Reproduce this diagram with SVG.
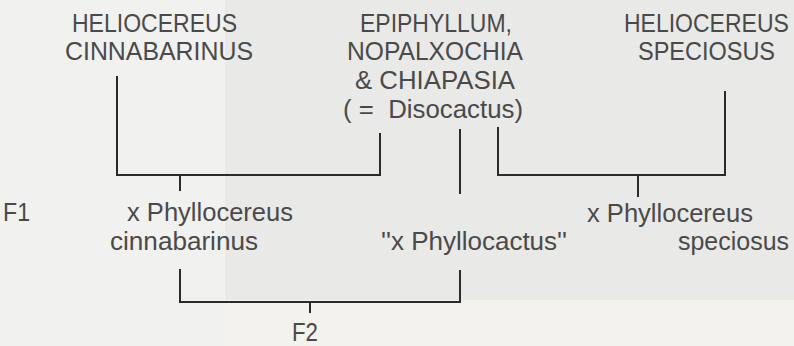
<svg xmlns="http://www.w3.org/2000/svg" width="794" height="346" viewBox="0 0 794 346">
<defs>
<style>
.t{font-family:"Liberation Sans",Arial,sans-serif;font-size:25px;fill:#4a4a4a;}
.c{fill:none;stroke:#2b2b2b;stroke-width:2;stroke-linecap:square;}
</style>
</defs>
<rect x="0" y="0" width="794" height="346" fill="#f1f1ef"/>
<rect x="225" y="0" width="569" height="300" fill="#e9e9e7"/>
<rect x="225" y="300" width="569" height="46" fill="#f3f2ec"/>
<g id="connectors">
<path class="c" d="M117 77 V175 H380 V134"/>
<path class="c" d="M180 175 V190"/>
<path class="c" d="M460 130 V193"/>
<path class="c" d="M498 128 V175 H725 V92"/>
<path class="c" d="M638 175 V196"/>
<path class="c" d="M180 270 V302 H460 V271"/>
<path class="c" d="M310 302 V312"/>
</g>
<g id="heliocereus-cinnabarinus">
<text class="t" x="72" y="31.5" textLength="165" lengthAdjust="spacingAndGlyphs">HELIOCEREUS</text>
<text class="t" x="65" y="60" textLength="188" lengthAdjust="spacingAndGlyphs">CINNABARINUS</text>
</g>
<g id="epiphyllum">
<text class="t" x="360" y="31.5" textLength="152" lengthAdjust="spacingAndGlyphs">EPIPHYLLUM,</text>
<text class="t" x="347" y="60" textLength="176" lengthAdjust="spacingAndGlyphs">NOPALXOCHIA</text>
<text class="t" x="355" y="89" textLength="160" lengthAdjust="spacingAndGlyphs">&amp; CHIAPASIA</text>
<text class="t" x="343" y="118" textLength="180" lengthAdjust="spacingAndGlyphs">( =&#160; Disocactus)</text>
</g>
<g id="heliocereus-speciosus">
<text class="t" transform="translate(624 31.5) scale(0.92 1)" x="0" y="0">HELIOCEREUS</text>
<text class="t" x="638" y="60" textLength="137" lengthAdjust="spacingAndGlyphs">SPECIOSUS</text>
</g>
<g id="f1">
<text class="t" x="3" y="221" textLength="27" lengthAdjust="spacingAndGlyphs">F1</text>
</g>
<g id="phyllocereus-cinnabarinus">
<text class="t" x="127" y="221" textLength="166" lengthAdjust="spacingAndGlyphs">x Phyllocereus</text>
<text class="t" x="110" y="250" textLength="148" lengthAdjust="spacingAndGlyphs">cinnabarinus</text>
</g>
<g id="phyllocactus">
<text class="t" x="381" y="250" textLength="186" lengthAdjust="spacingAndGlyphs">''x Phyllocactus''</text>
</g>
<g id="phyllocereus-speciosus">
<text class="t" x="587" y="222" textLength="166" lengthAdjust="spacingAndGlyphs">x Phyllocereus</text>
<text class="t" x="678" y="250" textLength="111" lengthAdjust="spacingAndGlyphs">speciosus</text>
</g>
<g id="f2">
<text class="t" x="292" y="341" textLength="26" lengthAdjust="spacingAndGlyphs">F2</text>
</g>
</svg>
